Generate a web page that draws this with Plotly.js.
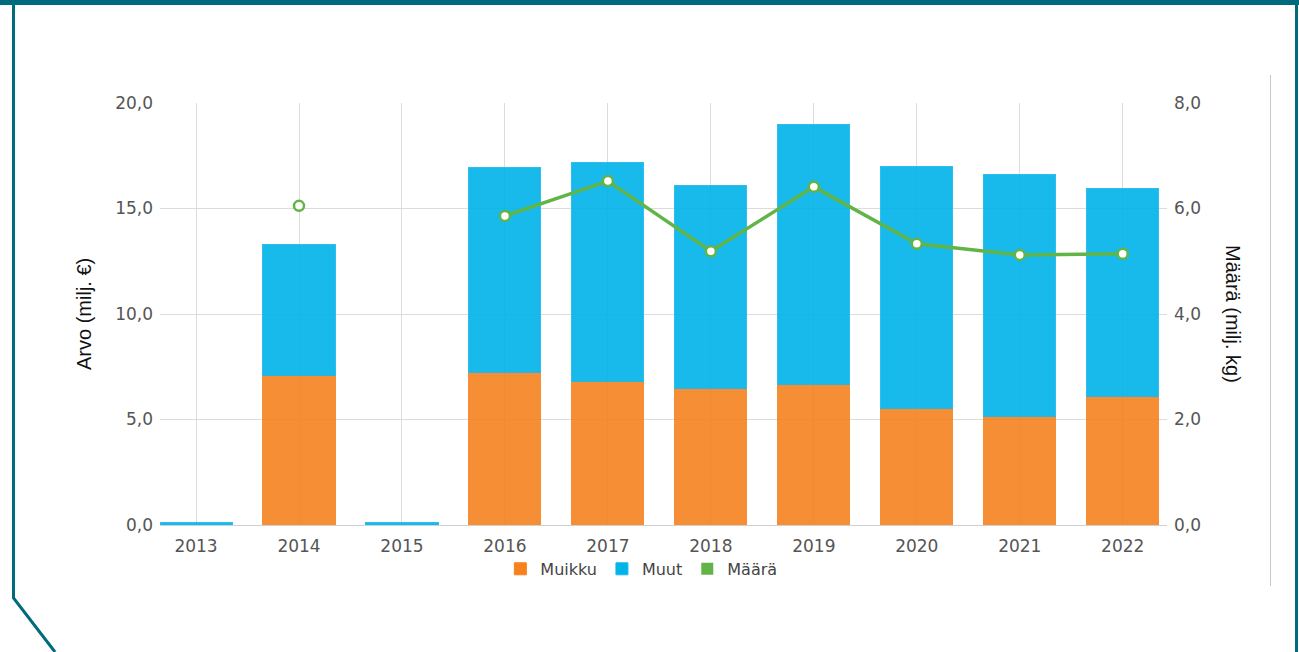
<!DOCTYPE html>
<html>
<head>
<meta charset="utf-8">
<script src="https://cdn.plot.ly/plotly-3.0.1.min.js"></script>
<style>
html,body{margin:0;padding:0;background:#fff;}
#wrap{position:relative;width:1299px;height:652px;overflow:hidden;}
#frame{position:absolute;left:0;top:0;}
#chart{position:absolute;left:0;top:0;width:1299px;height:652px;}
</style>
</head>
<body>
<div id="wrap">
<svg id="frame" width="1299" height="652">
  <rect x="0" y="0" width="1299" height="5" fill="#006b7c"/>
  <polyline points="13.5,0 13.5,598 55,652" fill="none" stroke="#006b7c" stroke-width="3"/>
  <line x1="1296.5" y1="0" x2="1296.5" y2="652" stroke="#006b7c" stroke-width="3"/>
  <line x1="1270.5" y1="75" x2="1270.5" y2="586" stroke="#c8c8c8" stroke-width="1"/>
</svg>
<div id="chart"></div>
</div>
<script>
const years = ['2013','2014','2015','2016','2017','2018','2019','2020','2021','2022'];
const muikku = [0, 7.08, 0, 7.25, 6.82, 6.45, 6.68, 5.50, 5.12, 6.11];
const muut = [0.1, 6.22, 0.1, 9.67, 10.38, 9.66, 12.28, 11.47, 11.47, 9.86];
const maara = [null, 6.05, null, 5.86, 6.52, 5.19, 6.41, 5.33, 5.12, 5.14];

const tickFont = {family: 'DejaVu Sans, Verdana, sans-serif', size: 17, color: '#555'};

const traces = [
  {type: 'bar', name: 'Muikku', x: years, y: muikku, width: 0.7,
   marker: {color: '#f5821f', opacity: 0.9, line: {color: '#f5821f', width: 1}}, hoverinfo: 'skip'},
  {type: 'bar', name: 'Muut', x: years, y: muut, width: 0.7,
   marker: {color: '#00b3e9', opacity: 0.9, line: {color: '#18b8ec', width: 1}}, hoverinfo: 'skip'},
  {type: 'scatter', mode: 'lines+markers', name: 'Määrä', x: years, y: maara, yaxis: 'y2',
   connectgaps: false, showlegend: false,
   line: {color: '#62b446', width: 3.5},
   marker: {color: '#ffffff', size: 10, line: {color: '#62b446', width: 2.5}}, hoverinfo: 'skip'},
  {type: 'bar', name: 'Määrä', x: years, y: years.map(() => null),
   marker: {color: '#62b446', opacity: 0.9}, hoverinfo: 'skip'}
];

const layout = {
  width: 1299, height: 652,
  paper_bgcolor: 'rgba(0,0,0,0)', plot_bgcolor: 'rgba(0,0,0,0)',
  margin: {l: 160, r: 132, t: 103, b: 127},
  barmode: 'stack',
  separators: ', ',
  showlegend: true,
  legend: {orientation: 'h', x: 0.478, xanchor: 'center', y: -0.104, yanchor: 'middle',
           font: {family: 'DejaVu Sans, Verdana, sans-serif', size: 16, color: '#444'},
           itemclick: false, traceorder: 'normal'},
  xaxis: {type: 'category', range: [-0.35, 9.43], showgrid: true, gridcolor: '#dcdcdc',
          showline: true, linecolor: '#d0d0d0', ticks: '', tickfont: tickFont,
          ticklabelstandoff: 6, fixedrange: true},
  yaxis: {range: [0, 20], tickvals: [0, 5, 10, 15, 20], tickformat: '.1f', showgrid: true,
          gridcolor: '#dcdcdc', zeroline: false, ticks: '', tickfont: tickFont,
          ticklabelstandoff: 6, fixedrange: true},
  yaxis2: {overlaying: 'y', side: 'right', range: [0, 8], tickvals: [0, 2, 4, 6, 8],
           tickformat: '.1f', showgrid: false, zeroline: false, ticks: '', tickfont: tickFont,
           ticklabelstandoff: 6, fixedrange: true},
  annotations: [
    {text: 'Arvo (milj. €)', xref: 'paper', yref: 'paper', x: (84 - 160) / 1007, y: 0.5,
     textangle: -90, showarrow: false, xanchor: 'center', yanchor: 'middle',
     font: {family: 'Liberation Sans, Arial, sans-serif', size: 20, color: '#111'}},
    {text: 'Määrä (milj. kg)', xref: 'paper', yref: 'paper', x: (1233 - 160) / 1007, y: 0.5,
     textangle: 90, showarrow: false, xanchor: 'center', yanchor: 'middle',
     font: {family: 'Liberation Sans, Arial, sans-serif', size: 20, color: '#111'}}
  ]
};

Plotly.newPlot('chart', traces, layout, {displayModeBar: false, staticPlot: true});
</script>
</body>
</html>
